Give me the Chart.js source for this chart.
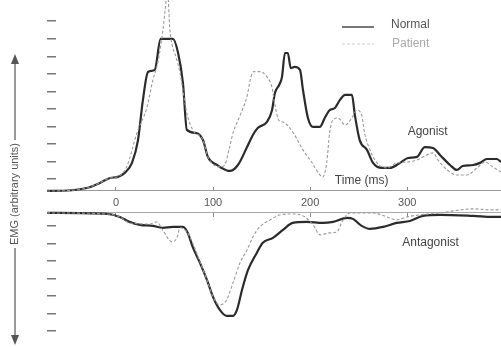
<!DOCTYPE html>
<html>
<head>
<meta charset="utf-8">
<script src="https://cdn.jsdelivr.net/npm/chart.js@4"></script>
<style>
  html, body { margin: 0; padding: 0; background: #fff; }
</style>
</head>
<body>
<canvas id="emgChart" width="501" height="347"></canvas>
<script>
// time in ms, EMG in arbitrary units (1 unit = one tick step)
const timeTicks = [0, 100, 200, 300];
const agonistTicks = [0.67, 1.67, 2.67, 3.67, 4.67, 5.67, 6.67, 7.67, 8.67, 9.67];
const antagonistTicks = [-0.73, -1.73, -2.73, -3.73, -4.73, -5.73, -6.73];
const seriesNames = ['Normal', 'Patient'];

const normalAgonistTime = [-71, -65, -30, -16.5, -6, 2, 9, 16.5, 22.7, 27.8, 33, 40, 46, 58.7, 64, 69, 73, 83, 89.6, 94.7,
  104, 107, 117, 125.6, 135, 141, 146, 155.5, 160.7, 163.7, 168, 171, 174, 177, 180, 184, 189.5, 192.6, 197.7, 203,
  210, 215, 220, 225.5, 230.7, 236, 243, 246, 251, 258.5, 264.7, 274, 282, 292.5, 300.7, 310, 318, 326.5, 333.7, 344,
  351, 357, 367.7, 374.9, 382, 392, 396.5];
const normalAgonistValue = [0, 0, 0.17, 0.46, 0.74, 0.8, 1.03, 1.6, 2.9, 5.19, 6.78, 6.9, 8.66, 8.66, 7.86, 6.15, 3.48, 3.3, 2.9, 1.94,
  1.48, 1.37, 1.14, 1.48, 2.5, 3.19, 3.59, 3.93, 4.6, 5.58, 6.04, 6.5, 7.86, 7.86, 7.0, 7.07, 6.9, 5.75, 4.16, 3.65,
  3.65, 4.16, 4.6, 4.73, 5.19, 5.47, 5.47, 4.33, 2.9, 2.34, 1.6, 1.31, 1.31, 1.6, 1.88, 1.94, 2.5, 2.45, 2.05, 1.48,
  1.2, 1.42, 1.48, 1.6, 1.82, 1.82, 1.65];

const patientAgonistTime = [-71, -65, -30, -16.5, -6, 1, 11, 21.6, 32, 38, 43, 48, 51, 53, 55.5, 58, 62, 66, 73, 79,
  89.6, 94.7, 107, 112, 117, 120.5, 127.7, 135, 139, 142, 148, 155.5, 160.7, 163.7, 168, 172, 182, 192.6, 202, 210,
  213, 217, 220, 223.5, 228.6, 236, 243, 248, 253, 256, 261.6, 268.8, 279, 289, 299.7, 310, 320, 326.5, 331.6, 341,
  351, 361.5, 371.8, 380, 388, 396.5];
const patientAgonistValue = [0, 0, 0.17, 0.46, 0.74, 0.8, 1.37, 3.3, 4.79, 6.32, 7.3, 9.0, 10.5, 11.5, 9.2, 8.3, 7.6, 6.72, 4.44, 3.48,
  2.9, 1.94, 1.37, 1.48, 2.5, 3.3, 4.3, 5.4, 6.5, 6.8, 6.8, 6.5, 5.9, 4.9, 4.0, 3.93, 3.36, 2.34, 1.6, 0.91,
  0.8, 1.6, 3.3, 4.05, 4.16, 3.76, 4.16, 4.6, 4.33, 3.3, 2.34, 1.6, 1.31, 1.6, 1.65, 1.77, 2.05, 2.17, 1.77, 1.2,
  0.91, 0.91, 1.31, 1.65, 1.37, 1.08];

const normalAntagonistTime = [-71, -9, 4, 14, 24.7, 38, 48, 58.7, 69, 74, 79, 86.5, 93.7, 100, 107, 114, 120.5, 124.6, 129.8, 136,
  145, 151, 161.7, 172, 182, 196.7, 213, 223.5, 238, 244, 253, 261.6, 275, 289, 302.8, 316, 333.7, 367.7, 388, 396.5];
const normalAntagonistValue = [0, -0.06, -0.23, -0.51, -0.68, -0.74, -0.85, -0.8, -0.8, -1.14, -1.94, -2.85, -3.82, -4.79, -5.53, -5.87, -5.87, -5.53, -4.39, -3.25,
  -2.28, -1.71, -1.42, -0.97, -0.57, -0.51, -0.57, -0.51, -0.28, -0.34, -0.74, -0.91, -0.8, -0.57, -0.46, -0.17, -0.11, -0.17, -0.23, -0.23];

const patientAntagonistTime = [-71, -9, 4, 14, 35, 42, 48, 57.7, 62.8, 66, 73, 79, 86.5, 93.7, 100, 107, 114, 120.5, 127.7, 135,
  141, 148, 158.6, 169, 182, 192.6, 203, 210, 220, 227.6, 232.8, 241, 251, 264.7, 279, 289, 299.7, 313, 333.7, 367.7, 388, 396.5];
const patientAntagonistValue = [0, -0.06, -0.23, -0.57, -0.63, -0.51, -0.97, -1.65, -1.42, -0.85, -1.08, -1.71, -2.79, -3.82, -4.79, -5.24, -4.96, -3.99, -2.85, -2.11,
  -1.37, -0.8, -0.4, -0.11, -0.06, -0.17, -0.68, -1.25, -1.14, -1.08, -0.51, 0, 0, 0, -0.23, -0.4, -0.23, -0.11, 0, 0.23, 0.17, 0.17];

const notes = [
  { text: 'Agonist', t: 321, v: 3.36, axis: 'yAg' },
  { text: 'Antagonist', t: 324, v: -1.71, axis: 'yAnt' },
  { text: 'Time (ms)', t: 253, v: 0.57, axis: 'yAg' }
];
const yTitle = 'EMG (arbitrary units)';

const FONT = '"Liberation Sans", Arial, sans-serif';
const toPoints = (ts, vs) => ts.map((t, i) => ({ x: t, y: vs[i] }));

const normalStyle = { borderColor: '#2b2b2b', borderWidth: 2.2 };
const patientStyle = { borderColor: '#9a9a9a', borderWidth: 1.1, borderDash: [3, 2] };

const decorPlugin = {
  id: 'emgDecor',
  afterDraw(chart) {
    const ctx = chart.ctx;
    const xs = chart.scales.x;
    ctx.save();

    // y title with double arrow
    const cx = 15, cy = 194;
    ctx.font = '11px ' + FONT;
    const w = ctx.measureText(yTitle).width;
    ctx.strokeStyle = '#555';
    ctx.fillStyle = '#555';
    ctx.lineWidth = 1.2;
    ctx.beginPath();
    ctx.moveTo(cx, 62); ctx.lineTo(cx, cy - w / 2 - 3);
    ctx.moveTo(cx, cy + w / 2 + 3); ctx.lineTo(cx, 337);
    ctx.stroke();
    ctx.beginPath();
    ctx.moveTo(cx, 54); ctx.lineTo(cx - 4, 64); ctx.lineTo(cx + 4, 64); ctx.closePath();
    ctx.moveTo(cx, 345); ctx.lineTo(cx - 4, 335); ctx.lineTo(cx + 4, 335); ctx.closePath();
    ctx.fill();
    ctx.save();
    ctx.translate(cx, cy);
    ctx.rotate(-Math.PI / 2);
    ctx.textAlign = 'center';
    ctx.textBaseline = 'middle';
    ctx.fillText(yTitle, 0, 0);
    ctx.restore();

    // notes
    ctx.font = '12px ' + FONT;
    ctx.fillStyle = '#444';
    ctx.textAlign = 'center';
    ctx.textBaseline = 'middle';
    notes.forEach(n => {
      ctx.fillText(n.text, xs.getPixelForValue(n.t), chart.scales[n.axis].getPixelForValue(n.v));
    });

    // legend
    ctx.textAlign = 'left';
    ctx.strokeStyle = '#777';
    ctx.lineWidth = 2;
    ctx.beginPath(); ctx.moveTo(342, 27); ctx.lineTo(374, 27); ctx.stroke();
    ctx.strokeStyle = '#ccc';
    ctx.lineWidth = 1;
    ctx.setLineDash([3, 2]);
    ctx.beginPath(); ctx.moveTo(342, 44); ctx.lineTo(374, 44); ctx.stroke();
    ctx.setLineDash([]);
    ctx.fillStyle = '#555';
    ctx.fillText(seriesNames[0], 391, 25);
    ctx.fillStyle = '#aaa';
    ctx.fillText(seriesNames[1], 392, 44);
    ctx.restore();
  }
};

const setTicks = list => scale => { scale.ticks = list.map(v => ({ value: v })); };

new Chart(document.getElementById('emgChart'), {
  type: 'line',
  data: {
    datasets: [
      { label: seriesNames[1], data: toPoints(patientAgonistTime, patientAgonistValue), yAxisID: 'yAg', ...patientStyle },
      { label: seriesNames[1], data: toPoints(patientAntagonistTime, patientAntagonistValue), yAxisID: 'yAnt', ...patientStyle },
      { label: seriesNames[0], data: toPoints(normalAgonistTime, normalAgonistValue), yAxisID: 'yAg', ...normalStyle },
      { label: seriesNames[0], data: toPoints(normalAntagonistTime, normalAntagonistValue), yAxisID: 'yAnt', ...normalStyle }
    ]
  },
  options: {
    responsive: false,
    animation: false,
    layout: { padding: 0 },
    elements: {
      point: { radius: 0 },
      line: { cubicInterpolationMode: 'monotone', fill: false }
    },
    plugins: { legend: { display: false }, tooltip: { enabled: false } },
    scales: {
      x: {
        type: 'linear',
        min: -71,
        max: 396.5,
        position: { yAg: 0 },
        afterBuildTicks: setTicks(timeTicks),
        afterFit: s => { s.height = 0; },
        grid: { drawOnChartArea: false, tickLength: -4, color: '#888' },
        border: { display: true, color: '#999', width: 1 },
        ticks: { padding: 9, color: '#555', font: { family: FONT, size: 11 } }
      },
      x2: {
        type: 'linear',
        min: -71,
        max: 396.5,
        position: { yAnt: 0 },
        afterBuildTicks: setTicks(timeTicks),
        afterFit: s => { s.height = 0; },
        grid: { drawOnChartArea: false, tickLength: 4, color: '#888' },
        border: { display: true, color: '#aaa', width: 1 },
        ticks: { display: false }
      },
      yAg: {
        type: 'linear',
        position: 'left',
        stack: 'emg',
        stackWeight: 11.48,
        weight: 2,
        min: -0.6,
        max: 10.88,
        afterBuildTicks: setTicks(agonistTicks),
        afterFit: s => { s.width = 47; },
        grid: { drawOnChartArea: false, tickLength: -9, color: '#777', lineWidth: 1.5 },
        border: { display: false },
        ticks: { display: false }
      },
      yAnt: {
        type: 'linear',
        position: 'left',
        stack: 'emg',
        stackWeight: 8.29,
        weight: 1,
        min: -7.64,
        max: 0.65,
        afterBuildTicks: setTicks(antagonistTicks),
        afterFit: s => { s.width = 47; },
        grid: { drawOnChartArea: false, tickLength: -9, color: '#777', lineWidth: 1.5 },
        border: { display: false },
        ticks: { display: false }
      }
    }
  },
  plugins: [decorPlugin]
});
</script>
</body>
</html>
